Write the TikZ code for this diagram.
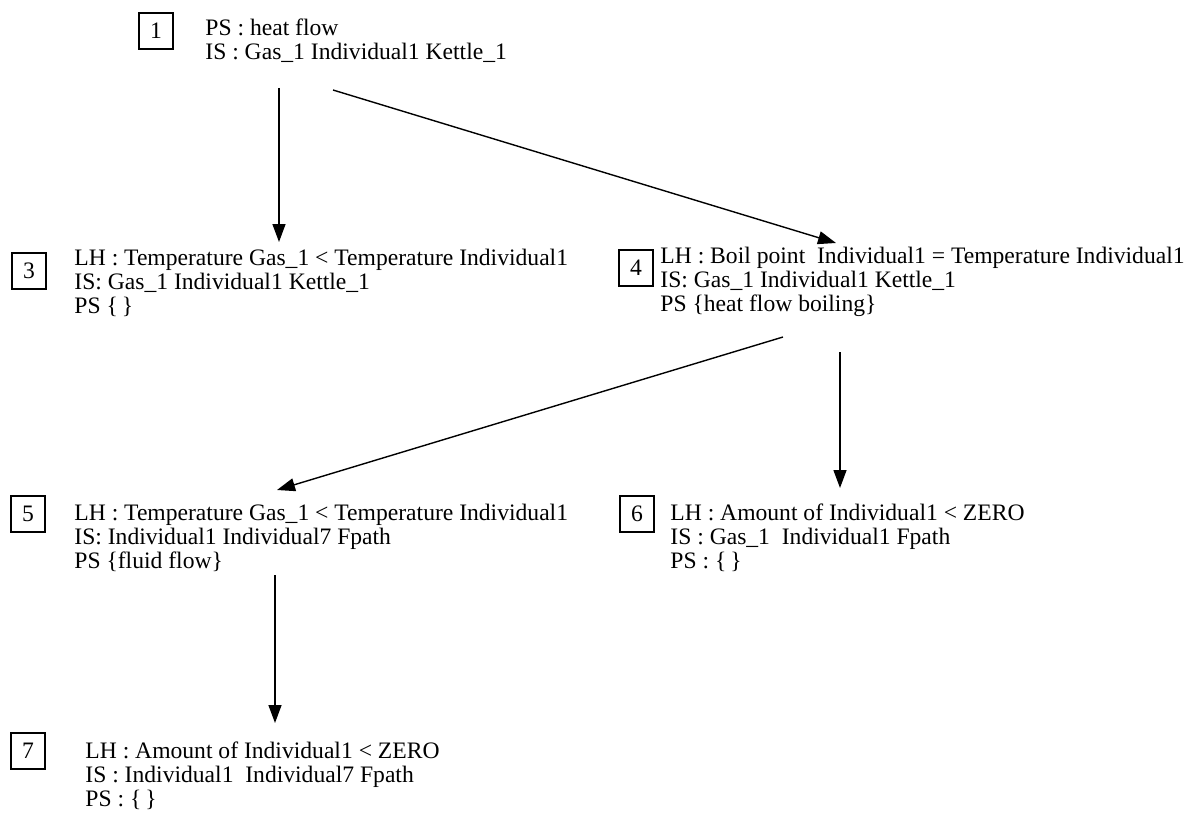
\documentclass[tikz,border=0pt]{standalone}
\usepackage{fontspec}
\setmainfont{Liberation Serif}
\usetikzlibrary{arrows.meta}
\begin{document}
\begin{tikzpicture}%
	[x=0.5pt, y=-0.5pt,
	numbox/.style={draw, line width=0.6pt, minimum width=17pt, minimum height=18pt, inner sep=0pt, font=\fontsize{11.8}{12}\selectfont},
	state/.style={anchor=base west, inner sep=0pt, align=left, font=\fontsize{11.8}{12}\selectfont},
	link/.style={line width=0.7pt, -{Triangle[length=9pt, width=6.5pt]}}]
%
\useasboundingbox (0,0) rectangle (1199,813);
%
%% Number boxes
%%
\node[numbox] (b1) at (156,31) {1};
\node[numbox] (b3) at (29,271) {3};
\node[numbox] (b4) at (636,268) {4};
\node[numbox] (b5) at (28,514) {5};
\node[numbox] (b6) at (637,514) {6};
\node[numbox] (b7) at (28,751) {7};
%%
%% State texts (placed at the baseline of their last line)
%%
\node[state] (t1) at (205,60) {PS : heat flow\\IS : Gas\_1 Individual1 Kettle\_1};
\node[state] (t3) at (74,313) {LH : Temperature Gas\_1 < Temperature Individual1\\IS: Gas\_1 Individual1 Kettle\_1\\PS \{\,\}};
\node[state] (t4) at (660,311) {LH : Boil point\ \ Individual1 = Temperature Individual1\\IS: Gas\_1 Individual1 Kettle\_1\\PS \{heat flow boiling\}};
\node[state] (t5) at (74,568) {LH : Temperature Gas\_1 < Temperature Individual1\\IS: Individual1 Individual7 Fpath\\PS \{fluid flow\}};
\node[state] (t6) at (670,568) {LH : Amount of Individual1 < ZERO\\IS : Gas\_1\ \ Individual1 Fpath\\PS : \{\,\}};
\node[state] (t7) at (85,806) {LH : Amount of Individual1 < ZERO\\IS : Individual1\ \ Individual7 Fpath\\PS : \{\,\}};
%%
%% Arrow ends
%%
\coordinate (s13) at (279,88);
\coordinate (e13) at (279,242);
\coordinate (s14) at (333,90);
\coordinate (e14) at (836,243);
\coordinate (s45) at (783,337);
\coordinate (e45) at (277,490);
\coordinate (s46) at (840,352);
\coordinate (e46) at (840,488);
\coordinate (s57) at (275,575);
\coordinate (e57) at (275,723);
%%
%% Links
%%
\draw[link] (s13) -- (e13);
\draw[link] (s14) -- (e14);
\draw[link] (s45) -- (e45);
\draw[link] (s46) -- (e46);
\draw[link] (s57) -- (e57);
%%
\end{tikzpicture}
\end{document}
